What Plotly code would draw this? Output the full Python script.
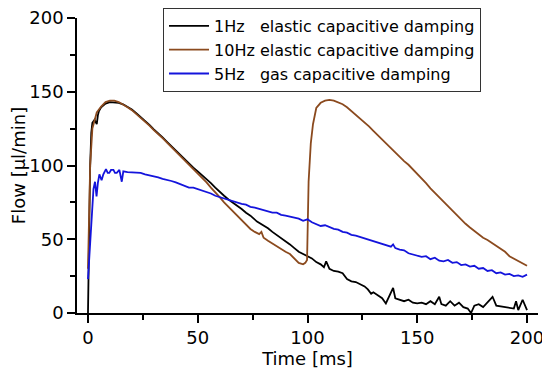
import plotly.graph_objects as go

# 1 Hz elastic capacitive damping (black)
t_1hz = [0, 0.3, 0.6, 1, 1.5, 2, 3, 4, 4.5, 5, 6, 8, 10, 12, 14, 16, 18, 20, 22, 24, 26, 28, 30,
         32, 34, 36, 38, 40, 42, 44, 46, 48, 50, 52, 54, 56, 58, 60, 62, 64, 66, 68, 70, 72, 74, 77,
         80, 82, 84, 86, 88, 90, 92, 94, 96, 98, 100, 102, 104, 106, 107.5, 108.5, 110, 112, 114,
         116, 118, 120, 122, 124, 126, 127.5, 129, 130, 132, 134, 135.7, 137, 139, 140, 142, 144,
         146, 148, 150, 152, 154, 156, 158, 160, 161, 163, 165, 167, 169, 171, 173, 174.5, 176,
         178, 180, 182, 184.3, 186, 188, 190, 192, 194, 195, 196, 198, 199, 200]
v_1hz = [0, 30, 70, 100, 122, 129, 131, 128, 134, 137, 139.5, 142, 143, 143, 142.5, 141.5, 140, 138,
         135.5, 133, 130.5, 127.5, 124.5, 122, 119, 116, 113, 110, 107, 104, 101, 98.5, 96, 93.5,
         90.5, 88, 85, 82, 79.5, 77, 75, 72.5, 70.5, 68, 66, 62, 59.5, 57.5, 55, 53, 51, 49, 46.5,
         44, 41.5, 40, 38.5, 37, 34.5, 33, 31, 35, 30, 28.5, 28, 27, 23, 21.5, 21, 19.5, 18, 16, 13,
         14, 12, 10, 6.5, 11, 17, 10, 9, 8, 9, 7, 6.5, 7, 6, 8, 6, 11, 6, 5, 8, 5, 7, 4, 3, 0, 5, 6,
         4, 7, 11, 5, 4.5, 4, 4, 3, 8, 2, 9, 5, 2]

# 10 Hz elastic capacitive damping (brown)
t_10hz = [0, 0.5, 1, 2, 3, 4, 6, 8, 10, 12, 14, 16, 18, 20, 22, 24, 26, 28, 30, 32, 34, 36, 38, 40,
          42, 44, 46, 48, 50, 52, 54, 56, 58, 60, 62, 64, 66, 68, 70, 72, 74, 76, 78, 79, 80, 82,
          84, 86, 88, 90, 92, 94, 96, 98, 99, 99.8, 100.5, 101.5, 102.5, 104, 106, 108, 110, 112,
          114, 116, 118, 120, 122, 124, 126, 128, 130, 132, 134, 136, 138, 140, 142, 144, 146, 148,
          150, 152, 154, 156, 158, 160, 162, 164, 166, 168, 170, 172, 174, 176, 178, 180, 182, 184,
          186, 188, 190, 192, 194, 196, 198, 200]
v_10hz = [30, 70, 100, 125, 131, 136, 140, 143, 144, 144, 143, 141.5, 139.5, 137.5, 135, 132.5, 130,
          127, 124, 121.5, 118.5, 115.5, 112.5, 109.5, 106.5, 103.5, 100.5, 98, 95, 91.5, 88.5, 85,
          82, 78.5, 75, 72, 69, 66, 63, 60, 57, 55, 53.5, 55, 51, 49, 47, 45, 43, 41.5, 40, 37, 34,
          33, 34, 36, 89, 115, 128, 139, 142.5, 144, 144.5, 144, 143, 141.5, 139.5, 137, 134.5, 132,
          129, 126.5, 123.5, 120.5, 118, 115, 112, 109, 106, 103, 100.5, 97.5, 94.5, 91, 88, 84.5,
          81.5, 78, 75, 72, 69, 66.5, 63, 60.5, 58, 55.5, 53.5, 51, 49.5, 47.5, 45, 43.5, 41.5, 38.5,
          37, 35, 33.5, 32]

# 5 Hz gas capacitive damping (blue)
t_5hz = [0, 0.5, 1, 1.5, 2, 2.5, 3.2, 3.9, 4.5, 5.2, 6.2, 7, 8.2, 9, 9.7, 10.5, 11.6, 12.3, 13.1,
         14.3, 15.4, 16.1, 18, 20, 22, 24, 26, 28, 30, 32, 34, 36, 38, 40, 42, 44, 46, 48, 50, 52,
         54, 56, 58, 60, 62, 64, 66, 68, 70, 72, 74, 76, 78, 80, 82, 84, 86, 88, 90, 92, 94, 96, 98,
         100, 102, 104, 106, 108, 110, 112, 114, 116, 118, 120, 122, 124, 126, 128, 130, 132, 134,
         136, 138, 139, 140, 142, 144, 146, 148, 150, 152, 154, 156, 158, 160, 162, 164, 166, 168,
         170, 172, 174, 176, 178, 180, 182, 184, 186, 188, 190, 192, 194, 196, 198, 200]
v_5hz = [23, 35, 48, 62, 75, 84, 89, 79, 88, 94, 90, 94, 97.5, 95, 95, 97, 97, 95, 95, 97, 89, 96,
         95.5, 95.5, 95.5, 95, 94, 93.5, 93, 92, 91, 90.5, 89.5, 88.5, 87.5, 86.5, 85, 85, 84, 83,
         82.5, 81, 79.5, 78.5, 77.5, 77, 75.5, 75, 74, 73.5, 72, 71.5, 70.5, 70, 69, 68, 68, 66.5,
         66, 65.5, 64.5, 64, 62.5, 63.5, 61.5, 60.5, 59, 59.5, 58, 57, 56.5, 55, 54.5, 53, 52.5,
         51.5, 51, 50, 48.5, 48, 46.5, 46, 45, 46.5, 44, 43, 42.5, 40.5, 39.5, 38.5, 38, 38.5, 36.5,
         37.5, 35.5, 35, 36, 34, 34.5, 32.5, 33, 31.5, 32, 30, 30.5, 28.5, 29, 27, 27.5, 26, 26.5,
         25, 25.5, 24.5, 26]

names = ["1Hz\u00a0\u00a0\u00a0elastic capacitive damping",
         "10Hz elastic capacitive damping",
         "5Hz\u00a0\u00a0\u00a0gas capacitive damping"]

x_ticks = [0, 50, 100, 150, 200]
y_ticks = [0, 50, 100, 150, 200]
minor_ticks = [25, 75, 125, 175]

fig = go.Figure()
fig.add_trace(go.Scatter(x=t_1hz, y=v_1hz, mode="lines", name=names[0],
                         line=dict(color="#000000", width=1.8)))
fig.add_trace(go.Scatter(x=t_10hz, y=v_10hz, mode="lines", name=names[1],
                         line=dict(color="#8B4A1E", width=1.8)))
fig.add_trace(go.Scatter(x=t_5hz, y=v_5hz, mode="lines", name=names[2],
                         line=dict(color="#1414DC", width=1.8)))

font_fam = "DejaVu Sans, Arial, sans-serif"
axis_common = dict(showgrid=False, zeroline=False, showline=True, linecolor="black", linewidth=1.5,
                   ticks="outside", ticklen=8, tickwidth=1.5, tickcolor="black", automargin=False,
                   ticklabeloverflow="allow",
                   tickfont=dict(family=font_fam, size=18, color="black"))

fig.update_layout(
    width=542, height=368,
    margin=dict(l=69, r=12, t=10, b=63, autoexpand=False),
    paper_bgcolor="white", plot_bgcolor="white",
    font=dict(family=font_fam, color="black"),
    showlegend=True,
    legend=dict(x=0.1866, y=1.0339, xanchor="left", yanchor="top",
                bordercolor="#333333", borderwidth=1, bgcolor="rgba(255,255,255,0)",
                font=dict(family=font_fam, size=16, color="black"),
                tracegroupgap=0, itemwidth=40),
    xaxis=dict(range=[-5, 205], tickmode="array", tickvals=x_ticks,
               title=dict(text="Time [ms]", font=dict(size=18), standoff=0),
               minor=dict(tickmode="array", tickvals=minor_ticks, ticks="outside", ticklen=5,
                          tickwidth=1.5, tickcolor="black"),
               **axis_common),
    yaxis=dict(range=[0, 200], tickmode="array", tickvals=y_ticks,
               title=dict(text="Flow [µl/min]", font=dict(size=18), standoff=7),
               minor=dict(tickmode="array", tickvals=minor_ticks, ticks="outside", ticklen=5,
                          tickwidth=1.5, tickcolor="black"),
               **axis_common),
)

fig.write_html("out.html")
